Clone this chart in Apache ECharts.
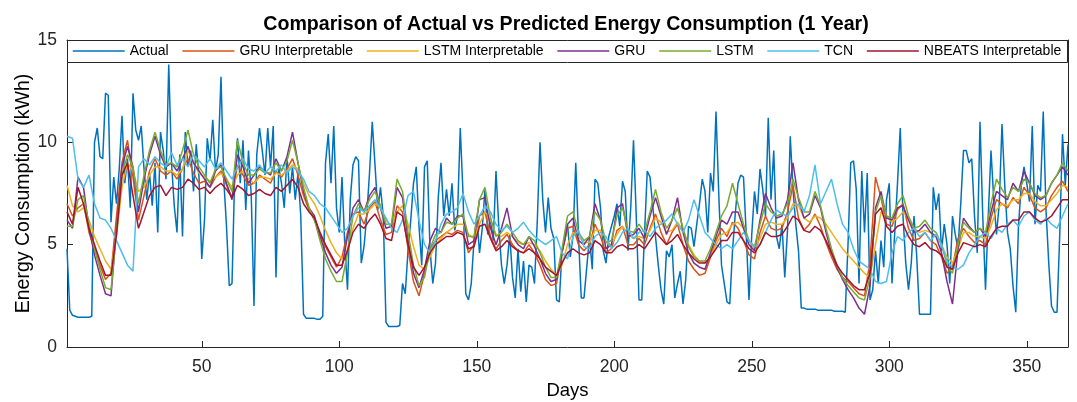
<!DOCTYPE html>
<html><head><meta charset="utf-8">
<script src="https://cdn.jsdelivr.net/npm/echarts@6/dist/echarts.min.js"></script>
<style>html,body{margin:0;padding:0;background:#fff}#c{width:1077px;height:402px}</style>
</head><body><div id="c"></div>
<script>
const titleText = 'Comparison of Actual vs Predicted Energy Consumption (1 Year)';
const xName = 'Days';
const yName = 'Energy Consumption (kWh)';
const xTicks = [50, 100, 150, 200, 250, 300, 350];
const seriesNames = ['Actual', 'GRU Interpretable', 'LSTM Interpretable', 'GRU', 'LSTM', 'TCN', 'NBEATS Interpretable'];
const seriesColors = ['#0072BD', '#D95319', '#EDB120', '#7E2F8E', '#77AC30', '#4DBEEE', '#A2142F'];

// Actual: one value per day (1..365)
const actual = [
4.8,1.8,1.55,1.5,1.45,1.45,1.45,1.45,1.45,1.5,
10.0,10.7,9.3,9.2,12.4,12.3,6.1,8.3,7.0,8.7,
11.3,8.0,9.2,6.8,12.4,10.6,10.1,10.8,8.7,7.2,
8.5,6.9,9.0,5.6,10.5,9.6,8.2,13.8,9.0,6.9,
5.6,9.4,5.4,10.5,8.8,9.6,7.6,9.9,8.3,4.3,
6.2,10.2,9.1,11.1,8.6,9.4,13.2,8.2,5.9,3.0,
3.1,8.5,10.2,8.0,10.1,6.7,9.6,7.4,2.0,9.4,
10.7,9.6,8.4,10.7,8.8,10.8,3.4,8.8,8.0,6.8,
9.3,7.5,8.8,7.2,8.5,6.4,1.6,1.4,1.4,1.4,
1.4,1.35,1.35,1.5,9.0,10.4,8.0,10.8,6.8,5.6,
8.3,5.0,2.8,7.2,8.9,9.3,9.1,4.1,4.9,6.4,
8.5,11.0,8.9,6.7,7.8,6.4,1.2,1.0,1.0,1.0,
1.0,1.05,3.1,2.6,4.7,6.2,8.0,8.8,5.9,4.0,
8.8,9.1,4.8,3.1,4.1,7.3,9.0,6.4,7.7,6.4,
8.0,5.7,6.4,10.7,7.5,2.6,2.3,3.1,5.2,6.4,
4.6,5.8,7.7,5.5,6.3,5.2,8.6,5.9,4.0,3.1,
4.0,5.5,3.4,2.4,4.8,2.7,4.2,2.2,4.0,3.9,
3.1,6.1,10.0,7.2,5.6,7.3,5.8,5.3,2.3,2.2,
4.7,5.2,6.0,4.4,5.4,9.0,5.4,2.4,2.4,3.9,
5.4,3.8,8.2,8.0,6.8,4.7,4.1,5.4,5.9,6.4,
7.0,5.9,8.1,7.6,4.7,6.8,10.1,6.4,2.3,2.3,
5.5,8.6,8.3,6.9,5.4,4.0,2.8,2.1,4.7,4.4,
5.0,2.4,3.1,3.7,2.1,3.3,5.9,5.8,4.9,6.0,
7.0,8.2,7.6,5.6,8.5,7.6,11.5,7.5,4.0,3.1,
2.2,2.1,4.7,6.5,8.0,8.4,8.3,5.5,2.3,5.5,
7.6,6.5,8.7,7.7,6.4,11.2,7.2,9.6,5.4,4.8,
6.0,3.4,5.7,10.3,7.7,6.0,4.7,1.9,1.9,1.85,
1.85,1.85,1.85,1.8,1.8,1.8,1.8,1.8,1.8,1.75,
1.75,1.75,1.75,1.7,5.0,9.0,9.1,7.7,3.1,8.6,
5.6,8.5,2.3,2.8,4.7,3.1,5.2,3.9,7.2,8.0,
3.1,5.6,8.0,10.7,6.4,4.1,2.8,4.1,6.4,4.4,
1.6,1.6,1.6,1.6,1.6,7.8,6.7,7.5,4.7,6.0,
5.0,3.1,6.4,5.5,4.8,7.0,9.6,9.6,9.0,9.2,
6.4,4.6,11.0,6.4,2.8,6.4,9.6,7.2,5.5,7.0,
10.9,7.9,5.6,4.8,3.0,1.7,5.9,7.9,8.8,8.0,
7.1,10.8,6.0,7.9,7.6,11.5,6.7,4.1,2.0,1.7,
1.7,5.5,10.4,7.9,9.9
];

// Predictions: values read every second day (days 1,3,5,...,365)
const gruInterp = [
7.0,6.4,6.8,7.0,5.6,4.8,4.0,3.3,3.6,6.4,
9.0,10.1,8.3,6.2,7.4,8.6,9.2,8.6,8.4,8.6,
8.2,8.7,9.2,8.5,8.0,8.1,7.8,8.3,8.6,7.9,
7.3,8.9,8.4,7.9,8.0,8.4,8.2,8.0,8.6,8.3,
8.7,9.2,8.4,7.4,6.7,6.2,5.5,4.9,4.4,3.9,
4.4,5.6,6.5,6.6,6.0,6.8,7.1,6.2,5.5,5.6,
6.9,6.6,4.8,3.2,2.5,3.6,4.8,5.2,5.4,5.6,
5.5,5.7,5.6,4.6,5.0,6.4,6.6,5.4,4.8,5.2,
5.5,5.0,4.7,4.6,5.0,4.6,4.0,3.3,3.0,3.1,
4.6,5.8,5.9,5.0,4.7,5.0,6.0,5.4,4.6,4.8,
5.7,5.9,5.0,5.0,5.3,5.0,5.8,6.5,5.6,5.0,
5.6,6.0,5.0,4.2,3.8,3.5,3.6,4.4,5.2,5.8,
5.4,6.1,5.8,5.2,4.5,4.3,5.6,6.4,5.8,5.7,
5.8,6.6,7.9,6.3,5.7,6.0,6.5,5.9,5.1,4.4,
3.8,3.4,3.2,2.9,2.6,2.5,4.2,8.3,7.3,6.0,
5.9,6.7,7.0,5.8,5.2,5.3,5.6,5.2,5.0,4.4,
3.6,3.9,5.3,5.8,5.4,5.1,5.2,5.0,6.3,7.2,
7.0,6.8,7.3,7.0,7.8,7.4,6.8,6.6,6.8,7.4,
7.8,8.1,7.6
];
const lstmInterp = [
7.9,6.9,6.6,6.8,6.2,5.4,4.8,4.2,3.8,5.4,
7.8,9.0,8.6,7.6,7.8,8.4,8.8,8.8,8.6,8.6,
8.4,8.7,9.6,9.0,8.5,8.3,8.1,8.3,8.5,8.2,
7.8,8.4,8.6,8.2,8.0,8.3,8.3,8.2,8.5,8.4,
8.6,8.9,8.7,8.0,7.4,7.0,6.4,5.7,5.1,4.6,
4.3,4.8,5.8,6.5,6.5,6.7,7.0,6.8,6.2,5.9,
6.6,6.9,6.0,4.9,4.0,3.8,4.4,5.0,5.3,5.6,
5.8,6.0,6.0,5.5,5.3,6.0,6.6,6.2,5.5,5.4,
5.6,5.4,5.1,5.0,5.1,5.0,4.7,4.2,3.8,3.5,
4.0,5.0,5.6,5.4,5.1,5.1,5.7,5.7,5.1,5.0,
5.5,5.9,5.5,5.3,5.4,5.3,5.7,6.3,6.1,5.6,
5.7,6.1,5.7,5.0,4.5,4.2,4.1,4.4,5.0,5.5,
5.6,6.0,6.1,5.8,5.2,4.8,5.3,6.0,6.1,6.0,
6.0,6.3,7.0,6.9,6.3,6.1,6.4,6.3,6.0,5.6,
5.2,4.8,4.5,4.2,3.9,3.6,3.4,5.0,6.6,6.4,
6.1,6.3,6.6,6.3,5.8,5.6,5.7,5.6,5.4,5.0,
4.4,4.1,4.8,5.6,5.6,5.4,5.4,5.3,5.9,6.7,
7.0,6.9,7.2,7.2,7.5,7.5,7.1,6.9,6.9,7.2,
7.5,7.9,7.8
];
const gru = [
6.2,5.8,8.3,7.8,5.8,4.5,3.5,2.6,2.5,5.8,
8.8,9.8,8.8,6.6,8.2,9.4,10.3,9.4,8.8,9.0,
8.6,9.2,9.8,9.0,8.6,8.2,7.8,8.6,8.9,8.0,
7.2,9.4,8.8,8.0,8.4,8.8,8.6,8.4,9.2,8.6,
9.3,10.5,9.0,7.6,6.8,6.4,5.4,4.6,4.0,3.6,
3.9,5.4,6.8,7.2,6.6,7.4,7.8,6.8,5.8,5.9,
7.8,7.3,5.3,3.6,2.9,3.8,5.2,5.8,5.6,6.3,
6.0,6.4,6.4,5.0,5.2,7.2,7.3,5.8,5.0,5.8,
6.8,5.4,5.0,4.8,5.4,4.9,4.3,3.6,3.2,3.3,
4.6,6.0,6.3,5.2,5.0,5.4,7.0,6.2,4.8,5.0,
6.8,7.0,5.4,5.5,5.8,5.3,6.4,7.3,6.4,5.5,
6.2,7.3,5.6,4.6,4.1,3.9,3.8,4.6,5.4,6.2,
6.0,6.6,6.6,5.8,5.0,4.7,6.2,7.5,6.8,6.3,
6.4,7.2,9.0,7.2,6.3,6.5,7.4,6.8,5.6,4.6,
3.9,3.3,2.8,2.4,1.9,1.6,3.0,6.8,7.6,6.3,
6.2,6.8,6.9,6.2,5.6,5.7,6.0,5.6,5.4,4.6,
3.2,2.1,4.8,6.3,5.9,5.6,5.8,5.4,6.6,7.6,
7.4,7.2,8.0,7.6,8.6,8.0,7.4,7.2,7.4,8.0,
8.4,8.8,8.4
];
const lstm = [
5.9,5.9,7.2,7.4,6.0,4.8,3.8,2.9,2.8,5.6,
8.4,9.4,8.8,7.0,8.4,9.6,10.5,9.6,8.9,9.0,
8.8,9.6,10.6,9.4,8.8,8.4,8.0,8.7,8.8,8.2,
7.6,10.1,9.0,8.4,8.4,8.7,8.5,8.5,9.0,8.6,
9.1,10.1,9.0,7.8,6.8,6.2,5.2,4.3,3.7,3.2,
3.2,4.6,6.4,7.0,6.6,7.2,7.6,6.9,6.0,6.0,
8.2,7.6,5.6,4.0,3.0,3.4,4.8,5.5,5.6,6.1,
6.0,6.3,6.5,5.4,5.4,7.2,7.8,6.3,5.4,5.6,
6.0,5.6,5.2,5.0,5.4,5.2,4.6,3.9,3.4,3.4,
4.8,6.4,6.6,5.6,5.2,5.4,6.6,6.2,5.1,5.2,
6.4,6.8,5.7,5.6,6.0,5.6,6.6,7.7,6.6,5.8,
6.2,6.8,5.8,4.9,4.4,4.2,4.2,4.8,5.6,6.4,
6.9,8.0,7.0,6.0,5.2,4.9,6.0,7.0,6.6,6.4,
6.5,7.0,8.2,7.3,6.6,6.6,7.6,6.9,5.8,4.8,
4.0,3.4,3.0,2.7,2.4,2.3,3.4,6.6,7.4,6.4,
6.3,7.0,7.4,6.4,5.8,5.9,6.2,5.8,5.6,5.0,
4.0,3.6,5.0,6.1,5.8,5.6,5.8,5.6,7.0,8.2,
7.7,7.3,7.8,7.6,8.2,8.0,7.5,7.3,7.4,8.0,
8.4,9.0,8.6
];
const tcn = [
10.3,10.2,8.2,7.8,8.4,7.0,6.3,6.2,5.8,5.2,
4.6,4.0,3.7,8.8,9.2,8.9,9.3,9.0,8.8,9.5,
8.9,9.2,8.8,9.4,9.1,8.8,9.2,8.7,9.0,8.6,
8.2,8.8,9.2,8.7,8.6,8.9,8.5,8.8,8.6,8.9,
8.5,8.8,8.6,8.2,7.6,7.4,7.0,6.8,6.4,6.0,
5.6,5.8,6.4,6.8,6.6,6.9,7.2,6.8,6.3,5.8,
5.6,6.2,7.4,7.6,6.2,5.0,4.6,5.2,6.0,6.5,
6.6,6.8,7.5,6.6,6.0,6.4,6.9,6.6,6.0,5.7,
5.9,5.6,5.8,6.1,5.7,5.4,5.2,5.0,5.2,5.4,
4.6,4.3,5.4,5.7,4.9,4.8,5.4,5.6,5.4,4.8,
5.1,5.6,5.8,5.3,5.6,5.7,5.4,5.8,6.0,6.2,
6.5,6.0,5.6,6.2,7.2,6.4,5.6,5.3,5.0,4.8,
5.0,4.8,5.2,5.6,5.2,4.9,5.0,5.6,6.2,6.7,
6.5,6.4,6.8,7.0,6.6,7.4,8.9,7.0,7.6,8.2,
7.0,6.0,5.6,4.8,4.2,4.0,3.8,3.2,3.1,3.2,
4.6,5.4,5.2,5.6,5.8,5.4,5.6,5.2,5.5,5.0,
4.2,3.9,3.8,4.0,4.6,5.0,5.4,5.6,5.3,5.8,
5.6,6.0,6.2,5.9,6.4,6.6,6.2,6.0,6.3,6.0,
5.8,6.4,7.0
];
const nbeatsInterp = [
6.6,6.0,7.8,7.0,5.8,5.0,4.2,3.5,3.5,5.5,
8.4,9.0,7.4,5.8,6.6,7.4,7.8,7.9,7.4,7.8,
7.7,7.8,8.2,8.0,7.7,7.8,7.5,7.8,8.0,7.7,
7.3,7.9,7.7,7.4,7.5,7.7,7.5,7.4,7.8,7.6,
7.9,8.2,7.8,7.0,6.6,6.3,5.6,5.0,4.5,4.0,
4.0,4.7,5.6,6.0,5.8,6.2,6.5,6.0,5.3,5.2,
6.6,6.4,5.0,3.9,3.5,3.9,4.6,5.0,5.2,5.4,
5.4,5.6,5.5,4.8,4.9,5.9,6.0,5.3,4.7,4.9,
5.2,4.9,4.7,4.6,4.8,4.6,4.3,3.9,3.7,3.5,
4.1,4.6,4.8,4.6,4.5,4.6,5.2,5.0,4.6,4.6,
4.9,5.0,4.8,4.8,5.0,4.8,5.2,5.6,5.3,5.0,
5.2,5.5,5.0,4.6,4.3,4.1,4.1,4.4,4.8,5.2,
5.2,5.6,5.6,5.2,4.8,4.6,5.0,5.6,5.4,5.4,
5.5,5.9,6.4,6.2,5.7,5.6,5.9,5.7,5.2,4.6,
4.0,3.6,3.3,3.0,2.8,2.8,3.6,6.5,6.8,5.9,
5.6,5.9,6.0,5.4,5.0,4.9,5.1,4.8,4.7,4.5,
3.9,3.8,4.6,5.1,5.0,4.9,5.0,4.9,5.4,5.8,
5.9,5.9,6.2,6.2,6.6,6.6,6.3,6.1,6.2,6.4,
6.8,7.2,7.2
];

const days = actual.map((_, i) => i + 1);
const predDays = gruInterp.map((_, i) => 1 + 2 * i);
const predValues = [gruInterp, lstmInterp, gru, lstm, tcn, nbeatsInterp];

const FONT = '"Liberation Sans", Arial, Helvetica, sans-serif';
const AXC = '#262626';

const series = [{
  name: seriesNames[0], type: 'line', symbol: 'none', showSymbol: false,
  data: days.map((d, i) => [d, actual[i]]),
  lineStyle: { width: 1.5, color: seriesColors[0] }, itemStyle: { color: seriesColors[0] },
  animation: false
}];
predValues.forEach((arr, k) => {
  series.push({
    name: seriesNames[k + 1], type: 'line', symbol: 'none', showSymbol: false,
    data: predDays.map((d, i) => [d, arr[i]]),
    lineStyle: { width: 1.5, color: seriesColors[k + 1] }, itemStyle: { color: seriesColors[k + 1] },
    animation: false
  });
});

const chart = echarts.init(document.getElementById('c'), null, { renderer: 'canvas' });
chart.setOption({
  animation: false,
  backgroundColor: '#fff',
  textStyle: { fontFamily: FONT },
  grid: { left: 67, right: 9, top: 40, bottom: 55, containLabel: false, outerBoundsMode: 'none' },
  legend: {
    data: seriesNames, left: 67, top: 40, padding: [4, 5, 4, 5],
    itemWidth: 52, itemHeight: 14, itemGap: 13, z: 200,
    itemStyle: { opacity: 0 },
    lineStyle: { width: 1.5 },
    textStyle: { fontSize: 14, color: '#000', fontFamily: FONT }
  },
  xAxis: [{
    type: 'value', min: 1, max: 365, position: 'bottom',
    name: xName, nameLocation: 'middle', nameGap: 34, nameMoveOverlap: false,
    nameTextStyle: { fontSize: 18.5, color: '#000', fontFamily: FONT },
    axisLine: { show: true, onZero: false, lineStyle: { color: AXC, width: 1 } },
    axisTick: { show: true, inside: true, length: 6, customValues: xTicks, lineStyle: { color: AXC } },
    axisLabel: { show: true, customValues: xTicks, fontSize: 17.5, color: '#262626', margin: 11, fontFamily: FONT },
    splitLine: { show: false }
  }, {
    type: 'value', min: 1, max: 365, position: 'top',
    axisLine: { show: true, onZero: false, lineStyle: { color: AXC, width: 1 } },
    axisTick: { show: false }, axisLabel: { show: false }, splitLine: { show: false }
  }],
  yAxis: [{
    type: 'value', min: 0, max: 15, interval: 5, position: 'left',
    name: yName, nameLocation: 'middle', nameGap: 33, nameMoveOverlap: false,
    nameTextStyle: { fontSize: 19.5, color: '#000', fontFamily: FONT },
    axisLine: { show: true, onZero: false, lineStyle: { color: AXC, width: 1 } },
    axisTick: { show: true, inside: true, length: 6, lineStyle: { color: AXC } },
    axisLabel: { fontSize: 17.5, color: '#262626', margin: 10, fontFamily: FONT, padding: [6, 0, 0, 0] },
    splitLine: { show: false }
  }, {
    type: 'value', min: 0, max: 15, interval: 5, position: 'right',
    axisLine: { show: true, onZero: false, lineStyle: { color: AXC, width: 1 } },
    axisTick: { show: true, inside: true, length: 6, lineStyle: { color: AXC } },
    axisLabel: { show: false }, splitLine: { show: false }
  }],
  graphic: [{
    type: 'rect', z: 100, silent: true,
    shape: { x: 67.5, y: 40.5, width: 1000, height: 22 },
    style: { fill: '#fff', stroke: AXC, lineWidth: 1 }
  }, {
    type: 'text', z: 100, x: 566, y: 25,
    style: { text: titleText, fontSize: 19.6, fontWeight: 'bold', fontFamily: FONT, fill: '#000', align: 'center', verticalAlign: 'middle' }
  }],
  series: series
});
</script>
</body></html>
